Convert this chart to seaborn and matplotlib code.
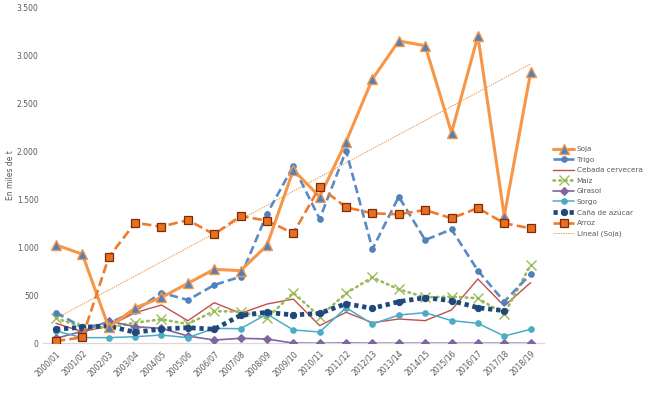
import numpy as np
import pandas as pd
import matplotlib
matplotlib.use("Agg")
import matplotlib.pyplot as plt
import seaborn as sns
from matplotlib.ticker import FuncFormatter

campanas = ["2000/01", "2001/02", "2002/03", "2003/04", "2004/05", "2005/06", "2006/07",
            "2007/08", "2008/09", "2009/10", "2010/11", "2011/12", "2012/13", "2013/14",
            "2014/15", "2015/16", "2016/17", "2017/18", "2018/19"]

soja = [1025, 928, 165, 368, 478, 625, 771, 757, 1020, 1805, 1527, 2100, 2753, 3149, 3100, 2194, 3201, 1326, 2823]
trigo = [319, 167, 205, 340, 527, 451, 607, 694, 1347, 1847, 1295, 2006, 982, 1527, 1076, 1187, 757, 434, 722]
cebada = [208, 121, 180, 319, 399, 235, 423, 312, 409, 461, 184, 323, 215, 253, 236, 347, 670, 389, 632]
maiz = [260, 173, 165, 215, 250, 201, 336, 329, 260, 527, 277, 521, 687, 562, 479, 486, 469, 305, 816]
girasol = [52, 125, 232, 173, 156, 76, 34, 52, 45, 2, 0, 3, 0, 0, 0, 0, 0, 0, 0]
sorgo = [128, 59, 59, 69, 86, 59, 156, 152, 305, 139, 118, 371, 201, 295, 319, 236, 208, 76, 146]
cafe = [146, 167, 180, 115, 149, 163, 146, 292, 323, 295, 312, 413, 364, 434, 475, 444, 371, 340, np.nan]
arroz = [24, 62, 896, 1256, 1215, 1284, 1135, 1326, 1277, 1146, 1628, 1417, 1354, 1344, 1389, 1302, 1409, 1250, 1198]

x = np.arange(len(campanas))
df = pd.DataFrame({"x": x, "Soja": soja, "Trigo": trigo, "Cebada cervecera": cebada,
                   "Maíz": maiz, "Girasol": girasol, "Sorgo": sorgo,
                   "Caña de azúcar": cafe, "Arroz": arroz})

sns.set_theme(style="white")
plt.rcParams['font.family'] = ['DejaVu Sans']

fig = plt.figure(figsize=(6.64, 3.98), dpi=100)
ax = fig.add_axes([0.0645, 0.1374, 0.7545, 0.8443])

txt = "#595959"

sns.lineplot(data=df, x="x", y="Soja", ax=ax, color="#F79646", lw=2.2, marker="^",
             markersize=7, markerfacecolor="#4F81BD", markeredgecolor="#F79646",
             markeredgewidth=1.0, label="Soja", zorder=6)
sns.lineplot(data=df, x="x", y="Trigo", ax=ax, color="#5A8AC6", lw=1.9,
             linestyle=(0, (3.2, 1.6)), marker="o", markersize=4,
             markerfacecolor="#4F81BD", markeredgecolor="#4F81BD", label="Trigo", zorder=5)
sns.lineplot(data=df, x="x", y="Cebada cervecera", ax=ax, color="#C0504D", lw=1.0,
             label="Cebada cervecera", zorder=4)
sns.lineplot(data=df, x="x", y="Maíz", ax=ax, color="#9BBB59", lw=1.9,
             linestyle=(0, (0.6, 1.6)), dash_capstyle="round", marker="x", markersize=6.5,
             markeredgewidth=1.0, markeredgecolor="#9BBB59", label="Maíz", zorder=4)
sns.lineplot(data=df, x="x", y="Girasol", ax=ax, color="#8064A2", lw=1.2, marker="D",
             markersize=4.2, markerfacecolor="#8064A2", markeredgecolor="#8064A2",
             label="Girasol", zorder=4)
sns.lineplot(data=df, x="x", y="Sorgo", ax=ax, color="#4BACC6", lw=1.1, marker="o",
             markersize=4, markerfacecolor="#4BACC6", markeredgecolor="#4BACC6",
             label="Sorgo", zorder=4)
sns.lineplot(data=df, x="x", y="Caña de azúcar", ax=ax, color="#1F497D", lw=3.4,
             linestyle=(0, (0.9, 0.8)), marker="o", markersize=4.5,
             markerfacecolor="#1F497D", markeredgecolor="#1F497D",
             label="Caña de azúcar", zorder=5)
sns.lineplot(data=df, x="x", y="Arroz", ax=ax, color="#F07A2A", lw=1.9,
             linestyle=(0, (3.5, 1.6)), marker="s", markersize=6.2,
             markerfacecolor="#E8711F", markeredgecolor="#7F2A0A", markeredgewidth=0.9,
             label="Arroz", zorder=6)

coef = np.polyfit(x, np.array(soja, dtype=float), 1)
trend = np.polyval(coef, x)
sns.lineplot(x=x, y=trend, ax=ax, color="#F79646", lw=0.7, linestyle=(0, (1.5, 1)),
             label="Lineal (Soja)", zorder=3)

ax.set_xlim(-0.5, len(campanas) - 0.5)
ax.set_ylim(0, 3500)
ax.set_yticks(np.arange(0, 3501, 500))
ax.yaxis.set_major_formatter(FuncFormatter(lambda v, p: f"{int(v):,}".replace(",", ".")))
ax.set_xticks(x)
ax.set_xticklabels(campanas, rotation=45, ha="right", rotation_mode="anchor")
ax.tick_params(axis="both", labelsize=5.5, colors=txt, length=0, pad=3)
ax.tick_params(axis="x", pad=4)
for s in ["top", "right", "left"]:
    ax.spines[s].set_visible(False)
ax.spines["bottom"].set_color("#D9D9D9")
ax.spines["bottom"].set_linewidth(0.9)
ax.set_xlabel("")
ax.set_ylabel("En miles de t", fontsize=5.5, color=txt)
ax.yaxis.set_label_coords(-0.055, 0.5)
ax.grid(False)

leg = ax.legend(loc="upper left", bbox_to_anchor=(1.012, 0.595), frameon=False,
                fontsize=5.2, handlelength=3.0, handletextpad=0.3, labelspacing=0.62,
                borderaxespad=0)
for t in leg.get_texts():
    t.set_color(txt)

fig.savefig("out.png", dpi=100)
